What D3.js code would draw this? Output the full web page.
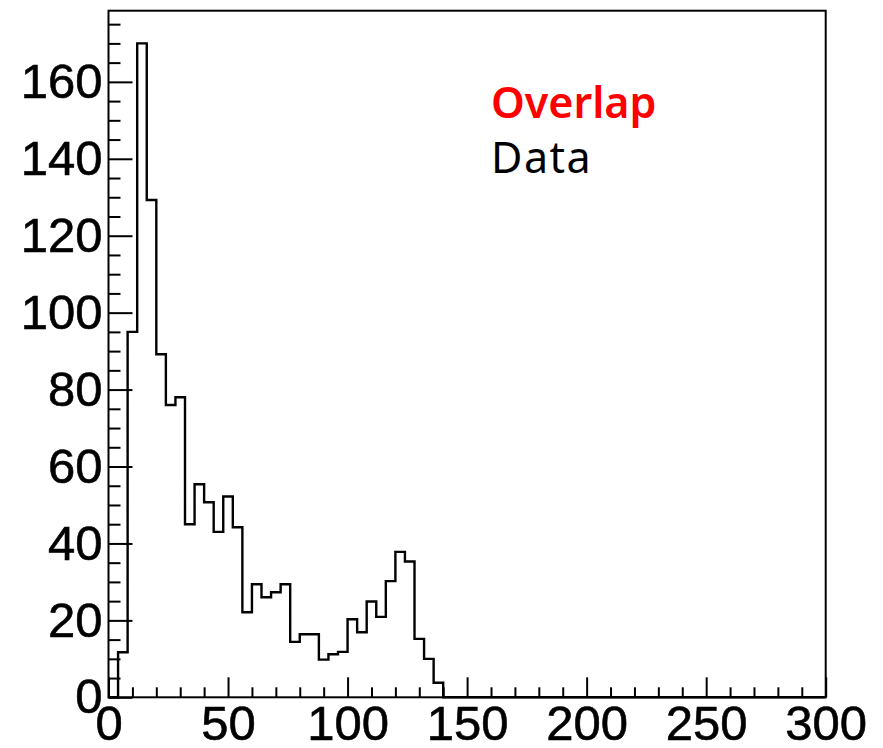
<!DOCTYPE html>
<html>
<head>
<meta charset="utf-8">
<script src="https://cdn.jsdelivr.net/npm/d3@7"></script>
<style>
  html, body { margin: 0; padding: 0; background: #fff; }
  svg { display: block; }
</style>
</head>
<body>
<svg id="chart" width="883" height="748"></svg>
<script>
// Histogram: 75 bins of width 4 over [0, 300]
const binWidth = 4;
const xRange = [0, 300];
const counts = [
  0, 11.7, 95, 170, 129.3, 89.2, 76, 78,
  45, 55.4, 50.7, 43, 52.2, 44.2, 22.1, 29.4,
  26, 27.3, 29.4, 14.4, 16.4, 16.4, 9.8, 11.2,
  11.8, 20.3, 16.9, 24.9, 20.9, 30.2, 37.8, 35.3,
  15.2, 10, 3.8, 0, 0, 0, 0, 0,
  0, 0, 0, 0, 0, 0, 0, 0,
  0, 0, 0, 0, 0, 0, 0, 0,
  0, 0, 0, 0, 0, 0, 0, 0,
  0, 0, 0, 0, 0, 0, 0, 0,
  0, 0, 0
];
const yMax = 178.5;

// Axis ticks
const xMajorTicks = [0, 50, 100, 150, 200, 250, 300];
const yMajorTicks = [0, 20, 40, 60, 80, 100, 120, 140, 160];

// Legend entries
const legendLabels = ["Overlap", "Data"];
const legendColors = ["#ff0000", "#000000"];

const frame = { left: 108.5, right: 825.7, top: 10.7, bottom: 697.3 };

const svg = d3.select("#chart");

const x = d3.scaleLinear().domain(xRange).range([frame.left, frame.right]);
const y = d3.scaleLinear().domain([0, yMax]).range([frame.bottom, frame.top]);

const labelFont = "'Liberation Sans', Arial, Helvetica, sans-serif";

// Step outline of the histogram
const pts = [[xRange[0], 0]];
counts.forEach((c, i) => {
  const x0 = xRange[0] + i * binWidth;
  pts.push([x0, c], [x0 + binWidth, c]);
});
pts.push([xRange[1], 0]);

svg.append("path")
  .attr("d", d3.line().x(d => x(d[0])).y(d => y(d[1]))(pts))
  .attr("fill", "none")
  .attr("stroke", "#000")
  .attr("stroke-width", 2.4)
  .attr("stroke-linejoin", "miter");

// Bottom axis: major + minor ticks pointing inward
const xMinor = d3.range(0, 301, 10).filter(v => v % 50 !== 0);
const gxMinor = svg.append("g").attr("transform", `translate(0,${frame.bottom})`)
  .call(d3.axisBottom(x).tickValues(xMinor).tickSize(-10).tickFormat(""));
const gx = svg.append("g").attr("transform", `translate(0,${frame.bottom})`)
  .call(d3.axisBottom(x).tickValues(xMajorTicks).tickSize(-20).tickPadding(8).tickFormat(d3.format("d")));

// Left axis
const yMinor = d3.range(0, 176, 5).filter(v => v % 20 !== 0);
const gyMinor = svg.append("g").attr("transform", `translate(${frame.left},0)`)
  .call(d3.axisLeft(y).tickValues(yMinor).tickSize(-12).tickFormat(""));
const gy = svg.append("g").attr("transform", `translate(${frame.left},0)`)
  .call(d3.axisLeft(y).tickValues(yMajorTicks).tickSize(-24).tickPadding(6).tickFormat(d3.format("d")));

[gx, gxMinor, gy, gyMinor].forEach(g => {
  g.select(".domain").remove();
  g.selectAll(".tick line").attr("stroke", "#000").attr("stroke-width", 2);
  g.selectAll(".tick text")
    .attr("fill", "#000")
    .attr("stroke", "#000")
    .attr("stroke-width", 0.6)
    .style("font-family", labelFont)
    .style("font-size", "49px");
});

// Frame
svg.append("rect")
  .attr("x", frame.left).attr("y", frame.top)
  .attr("width", frame.right - frame.left)
  .attr("height", frame.bottom - frame.top)
  .attr("fill", "none")
  .attr("stroke", "#000")
  .attr("stroke-width", 2);

// Legend text
const legend = svg.append("g").attr("transform", "translate(491,0)");
legend.selectAll("text")
  .data(legendLabels)
  .join("text")
  .attr("x", 0)
  .attr("y", (d, i) => 118 + i * 55)
  .attr("fill", (d, i) => legendColors[i])
  .style("font-family", "'Noto Sans', 'Noto Sans CJK KR', sans-serif")
  .style("font-weight", (d, i) => i === 0 ? 600 : 400)
  .style("letter-spacing", (d, i) => i === 0 ? "0px" : "1.5px")
  .style("font-size", "43px")
  .text(d => d);
</script>
</body>
</html>
